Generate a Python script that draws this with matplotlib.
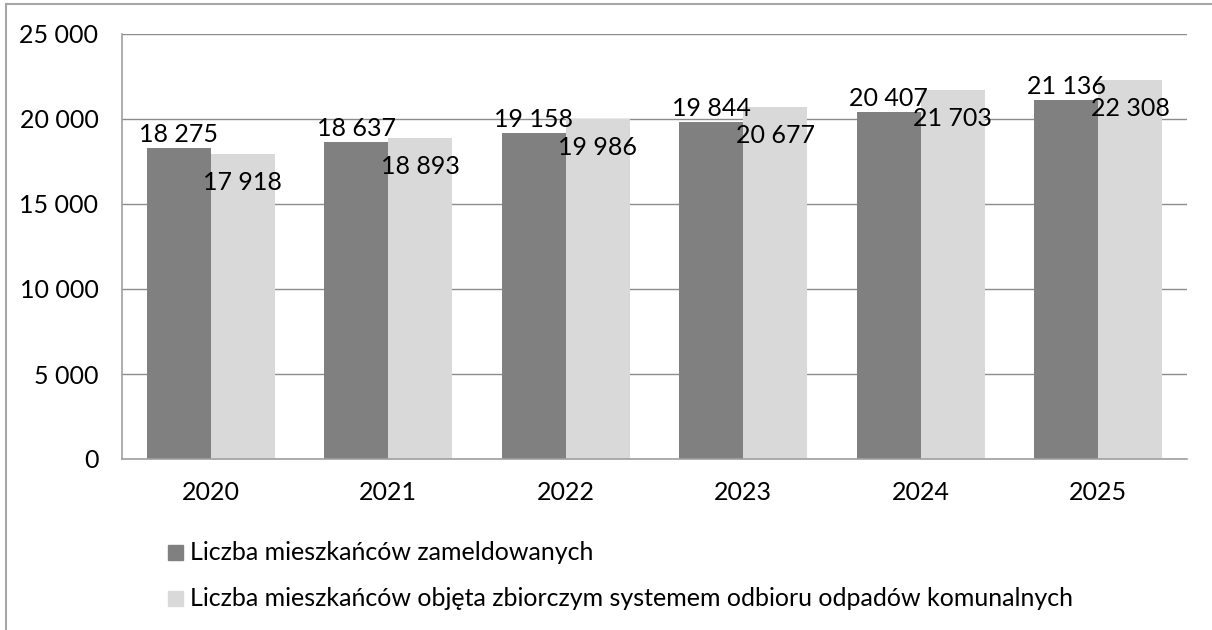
import matplotlib
matplotlib.use("Agg")
import matplotlib.pyplot as plt
import numpy as np
from matplotlib.patches import Rectangle
from matplotlib.lines import Line2D

plt.rcParams['font.family'] = ['Lato', 'DejaVu Sans']

years = ['2020', '2021', '2022', '2023', '2024', '2025']
registered = [18275, 18637, 19158, 19844, 20407, 21136]
covered = [17918, 18893, 19986, 20677, 21703, 22308]
series_names = ['Liczba mieszkańców zameldowanych',
                'Liczba mieszkańców objęta zbiorczym systemem odbioru odpadów komunalnych']
y_ticks = [0, 5000, 10000, 15000, 20000, 25000]


def fmt(v):
    return f"{v:,}".replace(",", " ")


fs = 18
fig = plt.figure(figsize=(12.12, 6.30), dpi=100)
ax = fig.add_axes([122 / 1212, 1 - 459 / 630, (1187 - 122) / 1212, (459 - 34) / 630])

x = np.arange(len(years))
w = 0.36
dark = '#808080'
light = '#d9d9d9'
b1 = ax.bar(x - w / 2, registered, w, color=dark, label=series_names[0], zorder=2)
b2 = ax.bar(x + w / 2, covered, w, color=light, label=series_names[1], zorder=2)

for rect, v in zip(b1, registered):
    ax.annotate(fmt(v), (rect.get_x() + rect.get_width() / 2, v), xytext=(0, 2),
                textcoords='offset pixels', ha='center', va='bottom', fontsize=fs, zorder=3)
for rect, v in zip(b2, covered):
    ax.annotate(fmt(v), (rect.get_x() + rect.get_width() / 2, v), xytext=(0, -17),
                textcoords='offset pixels', ha='center', va='top', fontsize=fs, zorder=3)

ax.set_xlim(-0.5, len(years) - 0.5)
ax.set_ylim(0, 25000)
ax.set_yticks(y_ticks)
ax.set_yticklabels([fmt(t) for t in y_ticks], fontsize=fs)
ax.set_xticks(x)
ax.set_xticklabels(years, fontsize=fs)
ax.tick_params(length=0)
ax.tick_params(axis='y', pad=17)
ax.tick_params(axis='x', pad=16)
ax.yaxis.grid(True, color='#8c8c8c', linewidth=1.0, zorder=1)
ax.set_axisbelow(True)
for s in ['top', 'right']:
    ax.spines[s].set_visible(False)
for s in ['left', 'bottom']:
    ax.spines[s].set_color('#a0a0a0')
    ax.spines[s].set_linewidth(1.2)

# legend, two rows below the axis
for i, (name, col) in enumerate(zip(series_names, [dark, light])):
    yc = 1 - (552 + 46 * i) / 630
    fig.add_artist(Rectangle((168 / 1212, yc - 7.5 / 630), 15 / 1212, 15 / 630,
                             transform=fig.transFigure, color=col))
    fig.text(190 / 1212, yc, name, fontsize=fs, va='center', ha='left')

# outer chart frame
fig.add_artist(Line2D([6 / 1212, 6 / 1212], [0, 1 - 4 / 630], transform=fig.transFigure,
                      color='#a6a6a6', linewidth=1.5))
fig.add_artist(Line2D([6 / 1212, 1], [1 - 4 / 630, 1 - 4 / 630], transform=fig.transFigure,
                      color='#a6a6a6', linewidth=1.5))

fig.savefig('out.png', dpi=100)
